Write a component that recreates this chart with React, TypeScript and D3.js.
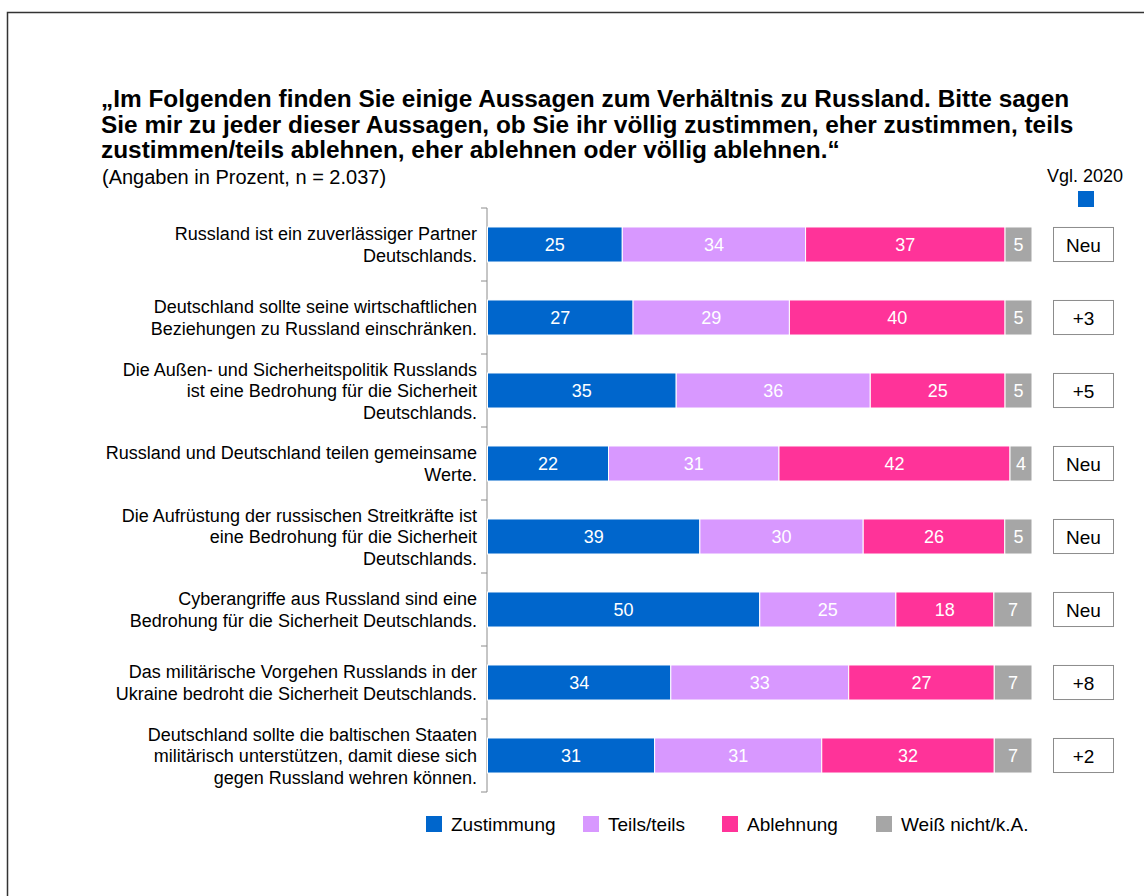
import React from "react";
import * as d3 from "d3";

const statements: string[][] = [
  ["Russland ist ein zuverlässiger Partner", "Deutschlands."],
  ["Deutschland sollte seine wirtschaftlichen", "Beziehungen zu Russland einschränken."],
  ["Die Außen- und Sicherheitspolitik Russlands", "ist eine Bedrohung für die Sicherheit", "Deutschlands."],
  ["Russland und Deutschland teilen gemeinsame", "Werte."],
  ["Die Aufrüstung der russischen Streitkräfte ist", "eine Bedrohung für die Sicherheit", "Deutschlands."],
  ["Cyberangriffe aus Russland sind eine", "Bedrohung für die Sicherheit Deutschlands."],
  ["Das militärische Vorgehen Russlands in der", "Ukraine bedroht die Sicherheit Deutschlands."],
  ["Deutschland sollte die baltischen Staaten", "militärisch unterstützen, damit diese sich", "gegen Russland wehren können."],
];

const zustimmung = [25, 27, 35, 22, 39, 50, 34, 31];
const teils = [34, 29, 36, 31, 30, 25, 33, 31];
const ablehnung = [37, 40, 25, 42, 26, 18, 27, 32];
const weissNicht = [5, 5, 5, 4, 5, 7, 7, 7];
const vgl2020 = ["Neu", "+3", "+5", "Neu", "Neu", "Neu", "+8", "+2"];

const seriesKeys = ["Zustimmung", "Teils/teils", "Ablehnung", "Weiß nicht/k.A."];
const seriesColors = ["#0066CC", "#D898FF", "#FF3399", "#A6A6A6"];

const titleLines = [
  "„Im Folgenden finden Sie einige Aussagen zum Verhältnis zu Russland. Bitte sagen",
  "Sie mir zu jeder dieser Aussagen, ob Sie ihr völlig zustimmen, eher zustimmen, teils",
  "zustimmen/teils ablehnen, eher ablehnen oder völlig ablehnen.“",
];
const subtitle = "(Angaben in Prozent, n = 2.037)";

const FONT = "'Liberation Sans', Arial, Helvetica, sans-serif";

export default function App() {
  const W = 1144;
  const H = 896;
  const rows = statements.map((_, i) => i);
  const table = rows.map((i) => ({
    row: i,
    [seriesKeys[0]]: zustimmung[i],
    [seriesKeys[1]]: teils[i],
    [seriesKeys[2]]: ablehnung[i],
    [seriesKeys[3]]: weissNicht[i],
  }));
  const stack = d3
    .stack<any>()
    .keys(seriesKeys)
    .offset(d3.stackOffsetExpand);
  const stacked = stack(table);

  const x = d3.scaleLinear().domain([0, 1]).range([487.5, 1032]);
  const y = d3
    .scaleBand<number>()
    .domain(rows)
    .range([208, 792])
    .paddingInner(0.52)
    .paddingOuter(0.26);
  const step = y.step();
  const bw = y.bandwidth();
  const axisX = 487;
  const lineH = 21.5;

  const legendX = [426, 583, 722, 876];

  return (
    <svg
      width={W}
      height={H}
      style={{ position: "absolute", left: 0, top: 0, background: "#fff" }}
      fontFamily={FONT}
    >
      <rect x={0} y={0} width={W} height={H} fill="#fff" />
      <rect x={7.5} y={12.5} width={W + 20} height={H + 20} fill="none" stroke="#333" strokeWidth={1.5} />

      {titleLines.map((t, i) => (
        <text key={i} x={101} y={107 + i * 25.5} fontSize={24.4} fontWeight="bold" fill="#000">
          {t}
        </text>
      ))}
      <text x={102} y={184} fontSize={20} fill="#000">
        {subtitle}
      </text>

      {/* Vgl. 2020 header */}
      <text x={1085} y={182} fontSize={18} textAnchor="middle" fill="#000">
        Vgl. 2020
      </text>
      <rect x={1078} y={191} width={16} height={16} fill={seriesColors[0]} />

      {/* axis */}
      <line x1={axisX} x2={axisX} y1={208} y2={792} stroke="#8c8c8c" strokeWidth={1} />
      {d3.range(rows.length + 1).map((k) => (
        <line
          key={k}
          x1={axisX - 6}
          x2={axisX}
          y1={208 + k * step}
          y2={208 + k * step}
          stroke="#8c8c8c"
          strokeWidth={1}
        />
      ))}

      {/* category labels */}
      {statements.map((lines, i) => {
        const cy = (y(i) as number) + bw / 2;
        const top = cy - ((lines.length - 1) * lineH) / 2;
        return (
          <text key={i} fontSize={18} textAnchor="end" fill="#000">
            {lines.map((l, j) => (
              <tspan key={j} x={477} y={top + j * lineH + 6.5}>
                {l}
              </tspan>
            ))}
          </text>
        );
      })}

      {/* bars */}
      {stacked.map((s, si) => (
        <g key={s.key}>
          {s.map((d, i) => {
            const x0 = x(d[0]);
            const x1 = x(d[1]);
            const yy = y(i) as number;
            return (
              <g key={i}>
                <rect
                  x={x0}
                  y={yy}
                  width={Math.max(0, x1 - x0)}
                  height={bw}
                  fill={seriesColors[si]}
                  stroke="#fff"
                  strokeWidth={1}
                />
                <text
                  x={(x0 + x1) / 2}
                  y={yy + bw / 2 + 6.5}
                  fontSize={18}
                  textAnchor="middle"
                  fill="#fff"
                >
                  {(d.data as any)[s.key]}
                </text>
              </g>
            );
          })}
        </g>
      ))}

      {/* comparison boxes */}
      {vgl2020.map((v, i) => {
        const yy = y(i) as number;
        return (
          <g key={i}>
            <rect x={1053.5} y={yy + 0.5} width={60} height={bw - 1} fill="#fff" stroke="#8c8c8c" strokeWidth={1} />
            <text x={1083.5} y={yy + bw / 2 + 7} fontSize={19} textAnchor="middle" fill="#000">
              {v}
            </text>
          </g>
        );
      })}

      {/* legend */}
      {seriesKeys.map((k, i) => (
        <g key={k}>
          <rect x={legendX[i]} y={816} width={16} height={16} fill={seriesColors[i]} />
          <text x={legendX[i] + 25} y={831} fontSize={19} fill="#000">
            {k}
          </text>
        </g>
      ))}
    </svg>
  );
}
